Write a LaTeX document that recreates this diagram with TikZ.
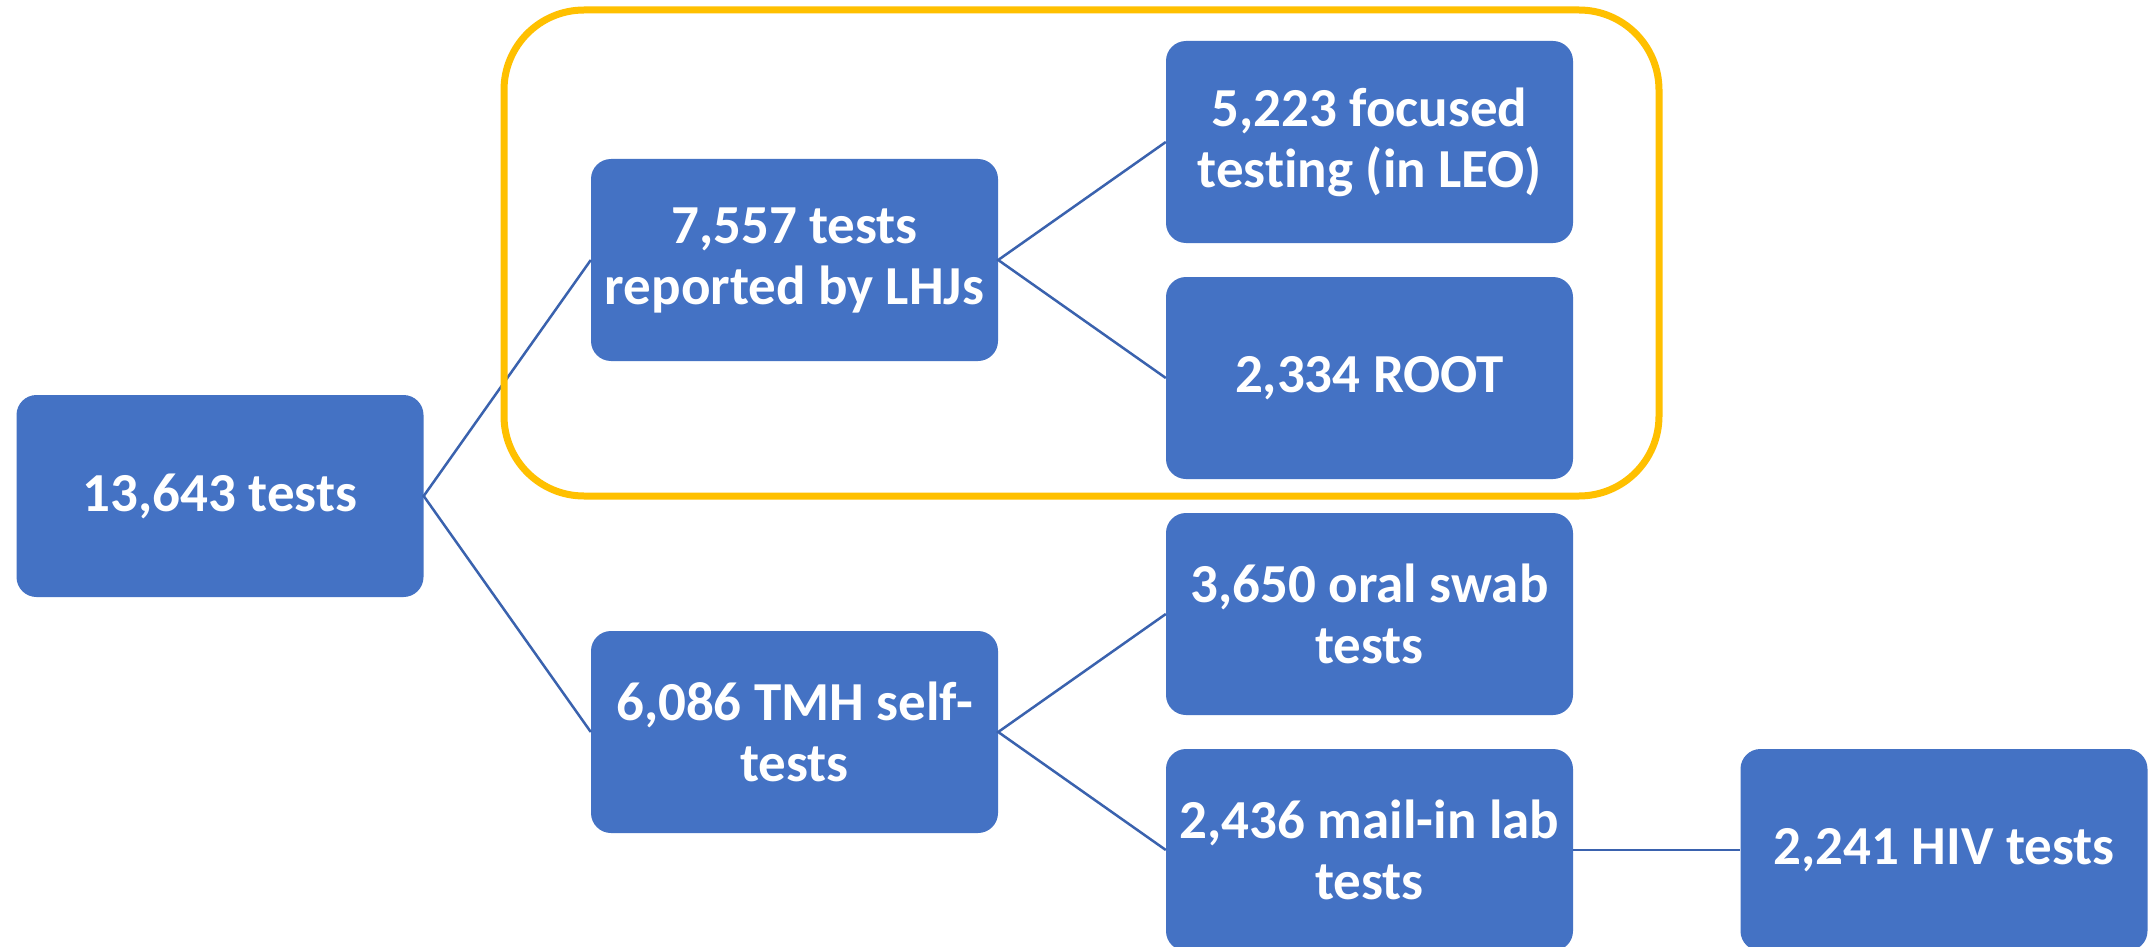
\documentclass[tikz,border=0pt]{standalone}
\usepackage{fontspec}
\setmainfont[Ligatures={NoCommon}]{Carlito}
\definecolor{boxblue}{HTML}{4472C4}
\definecolor{linkblue}{HTML}{3A62AE}
\definecolor{gold}{HTML}{FFC000}
\begin{document}
\begin{tikzpicture}[x=1pt,y=-1pt,
  tbox/.style={rectangle, rounded corners=20pt, fill=boxblue, draw=none,
    minimum width=407pt, minimum height=202pt, inner sep=0pt,
    text=white, align=center, font=\fontsize{55}{61}\selectfont\bfseries},
  link/.style={draw=linkblue, line width=2.5pt},
  frame/.style={draw=gold, line width=7pt, rounded corners=80pt}]
\useasboundingbox (0,0) rectangle (2153,947);
\fill[white] (0,0) rectangle (2153,947);
\begin{scope}
\clip (0,0) rectangle (2153,947);
\node[tbox] (a) at (220,496) {13,643 tests};
\node[tbox] (b) at (794.5,260) {7,557 tests\\reported by LHJs};
\node[tbox] (c) at (1369.5,142) {5,223 focused\\testing (in LEO)};
\node[tbox] (d) at (1369.5,378) {2,334 ROOT};
\node[tbox] (e) at (1369.5,614) {3,650 oral swab\\tests};
\node[tbox] (g) at (794.5,732) {6,086 TMH self-\\tests};
\node[tbox] (f) at (1369.5,850) {2,436 mail-in lab\\tests};
\node[tbox] (h) at (1944,850) {2,241 HIV tests};
\draw[link] (b.west) -- (a.east) -- (g.west);
\draw[link] (c.west) -- (b.east) -- (d.west);
\draw[link] (e.west) -- (g.east) -- (f.west);
\draw[link] (f.east) -- (h.west);
\draw[frame] (504,10) rectangle (1659,496);
\end{scope}
\end{tikzpicture}
\end{document}
